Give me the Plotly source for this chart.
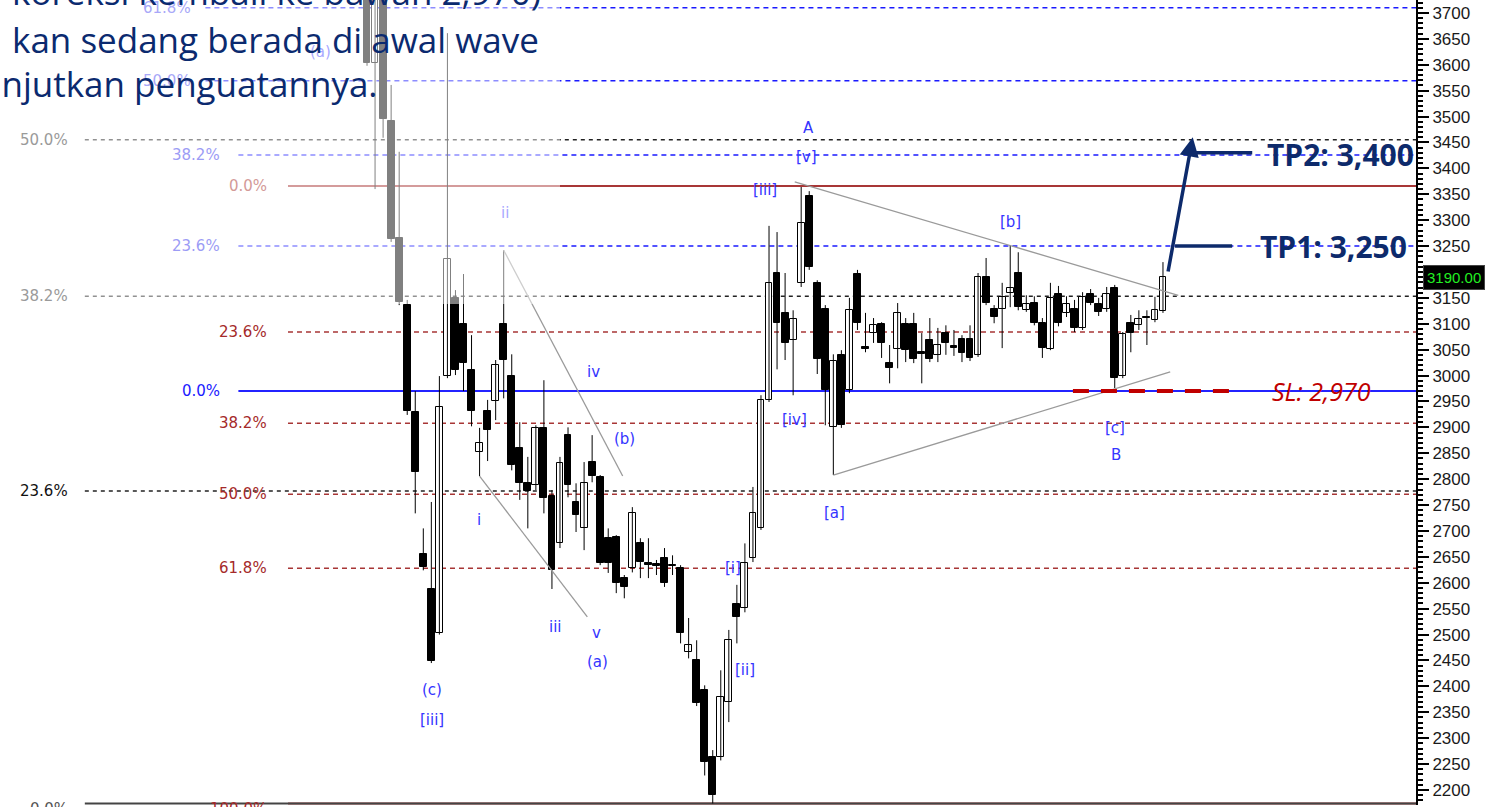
import plotly.graph_objects as go

# ---------------- data (daily OHLC) ----------------
open_ = [3822, 3603, 3744, 3491, 3265, 3136, 2929, 2655, 2588, 2503,
         2999, 3150, 3099, 3011, 2852, 2931, 2951, 3099, 2999, 2860,
         2792, 2788, 2899, 2767, 2676, 2885, 2756, 2705, 2833, 2804,
         2686, 2688, 2609, 2628, 2676, 2638, 2636, 2648, 2634, 2628,
         2466, 2451, 2393, 2263, 2263, 2370, 2559, 2551, 2648, 2705,
         2953, 3198, 3121, 3068, 3179, 3347, 3179, 3128, 2900, 3040,
         2972, 3196, 3055, 3082, 3099, 3024, 3051, 3099, 3099, 3045,
         3068, 3040, 3082, 3057, 3070, 3070, 3040, 3190, 3128, 3128,
         3159, 3198, 3126, 3140, 3101, 3051, 3157, 3121, 3128, 3092,
         3157, 3138, 3128, 3169, 2999, 3101, 3097, 3113, 3107, 3124]
high = [3841, 3764, 3764, 3561, 3432, 3146, 2970, 2705, 2756, 2999,
        3661, 3165, 3196, 3078, 2899, 2953, 3030, 3242, 3041, 2910,
        2843, 2904, 2991, 2779, 2843, 2900, 2792, 2833, 2885, 2808,
        2705, 2692, 2615, 2746, 2686, 2686, 2644, 2667, 2653, 2634,
        2532, 2489, 2402, 2277, 2431, 2509, 2596, 2676, 2785, 2962,
        3289, 3277, 3198, 3126, 3364, 3356, 3184, 3136, 3041, 3049,
        3150, 3204, 3121, 3111, 3103, 3059, 3140, 3111, 3121, 3082,
        3111, 3092, 3097, 3088, 3078, 3097, 3198, 3227, 3136, 3179,
        3252, 3238, 3155, 3153, 3111, 3179, 3173, 3153, 3146, 3161,
        3167, 3150, 3171, 3175, 3084, 3117, 3126, 3126, 3152, 3219]
low = [3598, 3360, 3459, 3258, 3136, 2924, 2734, 2624, 2445, 2500,
       2995, 3001, 2970, 2902, 2806, 2835, 2914, 2956, 2817, 2760,
       2705, 2779, 2734, 2588, 2667, 2765, 2698, 2663, 2794, 2634,
       2619, 2580, 2570, 2620, 2609, 2609, 2615, 2592, 2615, 2483,
       2454, 2362, 2228, 2174, 2257, 2331, 2483, 2543, 2640, 2702,
       2949, 3012, 3030, 2962, 3171, 3204, 3003, 2904, 2808, 2899,
       2966, 3088, 3045, 3063, 3034, 2985, 3014, 3026, 3024, 2985,
       3026, 3026, 3040, 3038, 3026, 3028, 3036, 3136, 3101, 3053,
       3132, 3126, 3123, 3097, 3034, 3049, 3095, 3113, 3084, 3088,
       3136, 3115, 3123, 2976, 2995, 3045, 3088, 3059, 3103, 3121]
close = [3603, 3744, 3495, 3264, 3142, 2931, 2814, 2630, 2449, 2939,
         3225, 3011, 3024, 2931, 2870, 2895, 3020, 3030, 2827, 2792,
         2777, 2899, 2763, 2624, 2831, 2788, 2731, 2792, 2806, 2638,
         2638, 2599, 2592, 2734, 2640, 2634, 2632, 2599, 2632, 2503,
         2480, 2368, 2254, 2190, 2379, 2489, 2534, 2638, 2734, 2953,
         3179, 3101, 3063, 3109, 3294, 3209, 3032, 2972, 3028, 2904,
         3126, 3101, 3051, 3097, 3063, 3014, 3121, 3049, 3032, 3041,
         3032, 3059, 3063, 3053, 3043, 3034, 3190, 3140, 3113, 3152,
         3169, 3132, 3138, 3101, 3053, 3150, 3101, 3138, 3092, 3152,
         3140, 3123, 3157, 2995, 3080, 3082, 3109, 3111, 3126, 3190]

last_price = 3190.00
tp1, tp2, sl = 3250, 3400, 2970

# Fibonacci levels: price, ratio label
fib_red_levels = [3366, 3084, 2908, 2771, 2628, 2174]
fib_red_labels = ["0.0%", "23.6%", "38.2%", "50.0%", "61.8%", "100.0%"]
fib_blue_levels = [3710, 3569, 3426, 3250, 2970]
fib_blue_labels = ["61.8%", "50.0%", "38.2%", "23.6%", "0.0%"]
fib_gray_levels = [3455, 3153, 2777, 2174]
fib_gray_labels = ["50.0%", "38.2%", "23.6%", "0.0%"]

# Elliott wave labels: text, bar index, price
wave_labels = [("(a)", -5.8, 3625), ("ii", 17.2, 3314), ("i", 13.9, 2721),
               ("iii", 23.5, 2515), ("v", 28.5, 2503), ("(a)", 28.7, 2447),
               ("iv", 28.2, 3007), ("(b)", 32.0, 2878), ("(c)", 8.1, 2393),
               ("[iii]", 8.1, 2335), ("[i]", 45.5, 2628), ("[ii]", 47.0, 2432),
               ("[iii]", 49.5, 3358), ("A", 54.9, 3478), ("[v]", 54.6, 3422),
               ("[iv]", 53.2, 2914), ("[a]", 58.2, 2735), ("[b]", 80.0, 3296),
               ("[c]", 93.0, 2899), ("B", 93.2, 2847)]

# trend lines (bar index, price)
trend_lines = [((17, 3242), (31.8, 2806)),
               ((14, 2806), (27.4, 2534)),
               ((53.2, 3374), (100.9, 3155)),
               ((58, 2808), (99.9, 3007))]

# ---------------- figure ----------------
n = len(close)
xs = list(range(n))
XMIN, XMAX = -45.65, 130.47
YMIN, YMAX = 2171, 3725

fig = go.Figure()

wx, wy = [], []
for i in xs:
    wx += [i, i, None]
    wy += [low[i], high[i], None]
fig.add_trace(go.Scatter(x=wx, y=wy, mode="lines", line=dict(color="black", width=1),
                         hoverinfo="skip", showlegend=False))

up_x, up_b, up_h, dn_x, dn_b, dn_h = [], [], [], [], [], []
for i in xs:
    b = min(open_[i], close[i])
    h = max(abs(close[i] - open_[i]), 2)
    if close[i] >= open_[i]:
        up_x.append(i); up_b.append(b); up_h.append(h)
    else:
        dn_x.append(i); dn_b.append(b); dn_h.append(h)
fig.add_trace(go.Bar(x=up_x, y=up_h, base=up_b, width=0.85,
                     marker=dict(color="white", line=dict(color="black", width=1)),
                     showlegend=False, hoverinfo="skip"))
fig.add_trace(go.Bar(x=dn_x, y=dn_h, base=dn_b, width=0.85,
                     marker=dict(color="black", line=dict(color="black", width=1)),
                     showlegend=False, hoverinfo="skip"))

shapes = []
annotations = []
lab_font = "DejaVu Sans"

def hline(y, x0, color, dash, width=1.5, layer="below"):
    shapes.append(dict(type="line", xref="x", yref="y", x0=x0, x1=XMAX, y0=y, y1=y,
                       line=dict(color=color, width=width, dash=dash), layer=layer))

def flabel(text, y, xend, color):
    annotations.append(dict(x=xend, y=y, xref="x", yref="y", text=text, showarrow=False,
                            xanchor="right", yanchor="middle",
                            yshift=-6 if y == YMIN + 3 else 0,
                            font=dict(family=lab_font, size=15, color=color)))

# red fib set
red_label_colors = ["#d39a98", "#a52a2a", "#a52a2a", "#a52a2a", "#a52a2a", "#a52a2a"]
for lvl, lab, col in zip(fib_red_levels, fib_red_labels, red_label_colors):
    solid = lab in ("0.0%", "100.0%")
    hline(lvl, -9.83, "#a83636", "solid" if solid else "5px,4px", 2 if solid else 1.5)
    flabel(lab, lvl, -12.2, col)
# blue fib set
blue_starts = [-20.1, -20.1, -16.0, -16.0, -16.0]
blue_ends = [-21.6, -21.6, -18.1, -18.1, -18.1]
blue_cols = ["#a8a8f8", "#a8a8f8", "#9c9cf5", "#9c9cf5", "#1a1aff"]
for lvl, lab, s, e, col in zip(fib_blue_levels, fib_blue_labels, blue_starts, blue_ends, blue_cols):
    solid = lab == "0.0%"
    hline(lvl, s, "#2323ff" if solid else "#1a1aff", "solid" if solid else "5px,4px", 2 if solid else 1.5)
    flabel(lab, lvl, e, col)
# gray/black fib set
gray_cols = ["#9a9a9a", "#9a9a9a", "#111111", "#555555"]
for lvl, lab, col in zip(fib_gray_levels, fib_gray_labels, gray_cols):
    solid = lab == "0.0%"
    hline(lvl, -35.1, "#444444" if solid else "#222222", "solid" if solid else "4px,4px", 2 if solid else 1.5)
    flabel(lab, lvl, -36.9, col)

# trend lines
for (a, b) in trend_lines:
    shapes.append(dict(type="line", xref="x", yref="y", x0=a[0], y0=a[1], x1=b[0], y1=b[1],
                       line=dict(color="#9a9a9a", width=1.3), layer="above"))

# SL dashes
shapes.append(dict(type="line", xref="x", yref="y", x0=87.8, x1=107.3, y0=sl, y1=sl,
                   line=dict(color="#c00000", width=4, dash="16px,12px"), layer="above"))
# TP lines
navy = "#0d2a6b"
shapes.append(dict(type="line", xref="x", yref="y", x0=100.5, x1=107.6, y0=tp1, y1=tp1,
                   line=dict(color=navy, width=3.5), layer="above"))
shapes.append(dict(type="line", xref="x", yref="y", x0=103.0, x1=110.1, y0=3430, y1=3430,
                   line=dict(color=navy, width=3.5), layer="above"))

# semi-transparent overlay behind the text block
shapes.append(dict(type="rect", xref="paper", yref="paper", x0=-0.01, x1=560 / 1416,
                   y0=1 - 304 / 805, y1=1.01, fillcolor="rgba(255,255,255,0.5)",
                   line=dict(width=0), layer="above"))

# wave labels
for t, x, y in wave_labels:
    light = (x < 24 and y > 3250)
    annotations.append(dict(x=x, y=y, xref="x", yref="y", text=t, showarrow=False,
                            font=dict(family="DejaVu Sans", size=15,
                                      color="#a9a9ff" if light else "#3535ff")))

# arrow
annotations.append(dict(x=102.7, y=3460, ax=99.6, ay=3198, xref="x", yref="y",
                        axref="x", ayref="y", text="", showarrow=True, arrowhead=2,
                        arrowsize=1.1, arrowwidth=3.5, arrowcolor=navy, standoff=0))
annotations.append(dict(x=110.8, y=tp1, xref="x", yref="y", text="<b>TP1: 3,250</b>",
                        showarrow=False, xanchor="left", yanchor="middle",
                        font=dict(family="Open Sans", size=30, color=navy)))
annotations.append(dict(x=111.7, y=3426, xref="x", yref="y", text="<b>TP2: 3,400</b>",
                        showarrow=False, xanchor="left", yanchor="middle",
                        font=dict(family="Open Sans", size=30, color=navy)))
annotations.append(dict(x=112.3, y=sl, xref="x", yref="y", text="<i>SL: 2,970</i>",
                        showarrow=False, xanchor="left", yanchor="middle",
                        font=dict(family="Open Sans", size=25, color="#c00000")))

# price box
annotations.append(dict(x=1.005, y=last_price, xref="paper", yref="y", text=f"{last_price:.2f}",
                        showarrow=False, xanchor="left", yanchor="middle", bgcolor="black",
                        bordercolor="#444", borderpad=3,
                        font=dict(family="Liberation Sans", size=15, color="#22ee22")))

# commentary text (top-left)
txt_col = "#0b2a6f"
for t, xr, yc in [("koreksi kembali ke bawah 2,970)", 543, -9),
                  ("kan sedang berada di awal wave", 541, 40),
                  ("anjutkan penguatannya.", 380, 83)]:
    annotations.append(dict(x=xr / 1416, y=1 - yc / 805, xref="paper", yref="paper", text=t,
                            showarrow=False, xanchor="right", yanchor="middle",
                            font=dict(family="Open Sans", size=35, color=txt_col)))

fig.update_layout(
    width=1487, height=807,
    margin=dict(l=0, r=71, t=0, b=2),
    paper_bgcolor="white", plot_bgcolor="white",
    barmode="overlay", bargap=0,
    showlegend=False,
    shapes=shapes, annotations=annotations,
    xaxis=dict(range=[XMIN, XMAX], visible=False, fixedrange=True),
    yaxis=dict(range=[YMIN, YMAX], side="right", showgrid=False, zeroline=False,
               tick0=2200, dtick=50, tickformat="d", ticks="outside", ticklen=11,
               tickwidth=1.5, tickcolor="black", showline=True, linecolor="black",
               linewidth=2, tickfont=dict(family="Liberation Sans", size=17, color="#1a1a1a"),
               minor=dict(dtick=10, ticklen=5, tickcolor="black", ticks="outside", showgrid=False)),
)

fig.write_html("out.html", config={"displayModeBar": False},
               post_script="document.body.style.margin='0px';document.body.style.overflow='hidden';")
